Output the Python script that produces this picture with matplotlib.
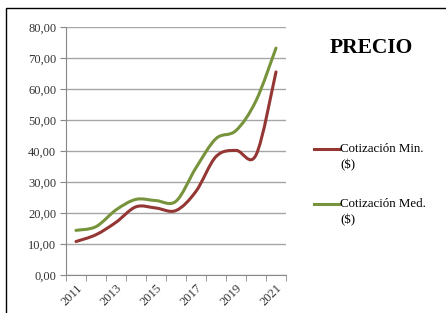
import matplotlib
matplotlib.use("Agg")
import numpy as np
from matplotlib import pyplot as plt
from matplotlib.path import Path
from matplotlib.patches import PathPatch, Rectangle
from matplotlib.lines import Line2D

years = [2011, 2012, 2013, 2014, 2015, 2016, 2017, 2018, 2019, 2020, 2021]
cot_min = [10.8, 13.0, 17.0, 22.0, 21.6, 20.8, 27.0, 38.2, 40.2, 38.7, 65.5]
cot_med = [14.4, 15.6, 21.0, 24.4, 24.0, 23.8, 34.6, 44.0, 46.6, 56.2, 73.2]
labels = [("Cotización Min.", "($)"), ("Cotización Med.", "($)")]
colors = ["#943634", "#77933c"]

plt.rcParams["font.family"] = ["Liberation Serif", "DejaVu Serif"]


def smooth_path(xs, ys):
    # Excel-like smoothed line: Catmull-Rom as cubic Bezier pieces
    pts = np.column_stack([xs, ys]).astype(float)
    n = len(pts)
    verts = [pts[0]]
    codes = [Path.MOVETO]
    for i in range(n - 1):
        p0 = pts[i - 1] if i > 0 else pts[i]
        p1 = pts[i]
        p2 = pts[i + 1]
        p3 = pts[i + 2] if i + 2 < n else pts[i + 1]
        c1 = p1 + (p2 - p0) / 6.0
        c2 = p2 - (p3 - p1) / 6.0
        verts += [c1, c2, p2]
        codes += [Path.CURVE4] * 3
    return Path(verts, codes)


W, H = 446, 313
fig = plt.figure(figsize=(W / 100, H / 100), dpi=100)
fig.patches.append(Rectangle((6 / W, -0.01), 1.0, 1 - 8 / H + 0.01,
                             transform=fig.transFigure, fill=False,
                             edgecolor="black", linewidth=1.0))

ax = fig.add_axes([66 / W, 1 - 275 / H, 220 / W, 248 / H])
x = np.arange(len(years))
for vals, col in zip([cot_min, cot_med], colors):
    ax.add_patch(PathPatch(smooth_path(x, vals), facecolor="none",
                           edgecolor=col, linewidth=2.2, capstyle="round"))

ax.set_xlim(-0.5, len(years) - 0.5)
ax.set_ylim(0, 80)
ax.set_yticks(np.arange(0, 81, 10))
ax.set_yticklabels([f"{v:.2f}".replace(".", ",") for v in np.arange(0, 81, 10)],
                   fontsize=9, color="#333333")
ax.set_xticks(x[::2])
ax.set_xticklabels([str(y) for y in years[::2]], rotation=45, fontsize=9,
                   color="#333333", ha="right", va="top", rotation_mode="anchor")
ax.set_xticks(np.arange(-0.5, len(years), 1), minor=True)
ax.tick_params(axis="x", which="major", length=0, pad=5)
ax.tick_params(axis="x", which="minor", length=4, color="#888888")
ax.tick_params(axis="y", length=4, color="#888888", pad=3)
ax.grid(axis="y", color="#a6a6a6", linewidth=1.0)
ax.set_axisbelow(True)
for s in ["top", "right"]:
    ax.spines[s].set_visible(False)
for s in ["left", "bottom"]:
    ax.spines[s].set_color("#888888")

fig.text(371 / W, 1 - 48 / H, "PRECIO", fontsize=15.5, fontweight="bold",
         ha="center", va="center")

# legend drawn by hand: handle beside the first line of each label
for (l1, l2), col, y0 in zip(labels, colors, [149, 204]):
    fig.add_artist(Line2D([314 / W, 339 / W], [1 - y0 / H, 1 - y0 / H],
                          color=col, linewidth=2.2, transform=fig.transFigure))
    fig.text(340 / W, 1 - y0 / H, l1, fontsize=9.3, ha="left", va="center")
    fig.text(340 / W, 1 - (y0 + 16) / H, l2, fontsize=9.3, ha="left", va="center")

fig.savefig("out.png", dpi=100)
